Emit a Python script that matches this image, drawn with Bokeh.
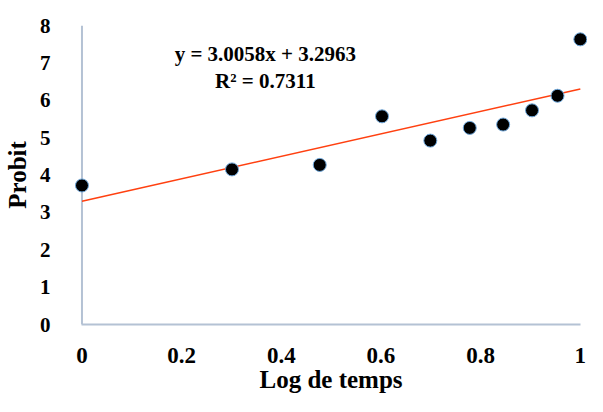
import numpy as np
from bokeh.plotting import figure
from bokeh.models import ColumnDataSource, FixedTicker, Label, Span
from bokeh.embed import file_html
from bokeh.resources import INLINE

# Data
temps = [1, 2, 3, 4, 5, 6, 7, 8, 9, 10]
log_temps = [float(np.log10(t)) for t in temps]
probit = [3.72, 4.15, 4.27, 5.57, 4.92, 5.26, 5.35, 5.73, 6.12, 7.63]
slope = 3.0058
intercept = 3.2963
r2 = 0.7311

x_ticks = [0, 0.2, 0.4, 0.6, 0.8, 1.0]
x_tick_labels = ["0", "0.2", "0.4", "0.6", "0.8", "1"]
y_ticks = [0, 1, 2, 3, 4, 5, 6, 7, 8]
y_tick_labels = ["0", "1", "2", "3", "4", "5", "6", "7", "8"]

FONT = "Liberation Serif"
AXIS_COLOR = "#B4C2D4"

p = figure(width=587, height=396, x_range=(-0.015, 1.0144), y_range=(0, 8),
           output_backend="svg", toolbar_location=None,
           min_border_left=73, min_border_right=0, min_border_top=25, min_border_bottom=72)
p.outline_line_color = None
p.grid.grid_line_color = None

for ax in (p.xaxis[0], p.yaxis[0]):
    ax.major_tick_line_color = None
    ax.minor_tick_line_color = None
    ax.major_label_text_font = FONT
    ax.major_label_text_font_style = "bold"
    ax.major_label_text_color = "black"
    ax.axis_label_text_font = FONT
    ax.axis_label_text_font_style = "bold"
    ax.axis_label_text_color = "black"

p.xaxis.axis_line_color = AXIS_COLOR
p.xaxis.axis_line_width = 2
p.xaxis.bounds = (0, 1)
p.yaxis.axis_line_color = None

p.xaxis.major_label_text_font_size = "23px"
p.yaxis.major_label_text_font_size = "21px"
p.xaxis.axis_label_text_font_size = "25px"
p.yaxis.axis_label_text_font_size = "25px"

p.xaxis.ticker = FixedTicker(ticks=x_ticks)
p.xaxis.major_label_overrides = {t: l for t, l in zip(x_ticks, x_tick_labels)}
p.yaxis.ticker = FixedTicker(ticks=y_ticks)
p.yaxis.major_label_overrides = {t: l for t, l in zip(y_ticks, y_tick_labels)}
p.xaxis.axis_label = "Log de temps"
p.yaxis.axis_label = "Probit"
p.xaxis.major_label_standoff = 17
p.xaxis.axis_label_standoff = 0
p.yaxis.major_label_standoff = 18
p.yaxis.axis_label_standoff = 6

# y axis line at x = 0, behind the markers
p.add_layout(Span(location=0, dimension="height", line_color=AXIS_COLOR,
                  line_width=2, level="underlay"))

# Trend line
xs = [min(log_temps), max(log_temps)]
ys = [slope * x + intercept for x in xs]
p.line(xs, ys, line_color="#FF4010", line_width=1.5)

src = ColumnDataSource(dict(x=log_temps, y=probit))
p.scatter("x", "y", source=src, size=13, fill_color="black",
          line_color="#6FA8DC", line_width=1)

eq1 = Label(x=0.368, y=7.24, text=f"y = {slope:.4f}x + {intercept:.4f}",
            text_align="center", text_baseline="middle", text_font=FONT,
            text_font_style="bold", text_font_size="21px", text_color="black")
eq2 = Label(x=0.368, y=6.515, text=f"R² = {r2:.4f}",
            text_align="center", text_baseline="middle", text_font=FONT,
            text_font_style="bold", text_font_size="21px", text_color="black")
p.add_layout(eq1)
p.add_layout(eq2)

open("out.html", "w").write(file_html(p, INLINE))
